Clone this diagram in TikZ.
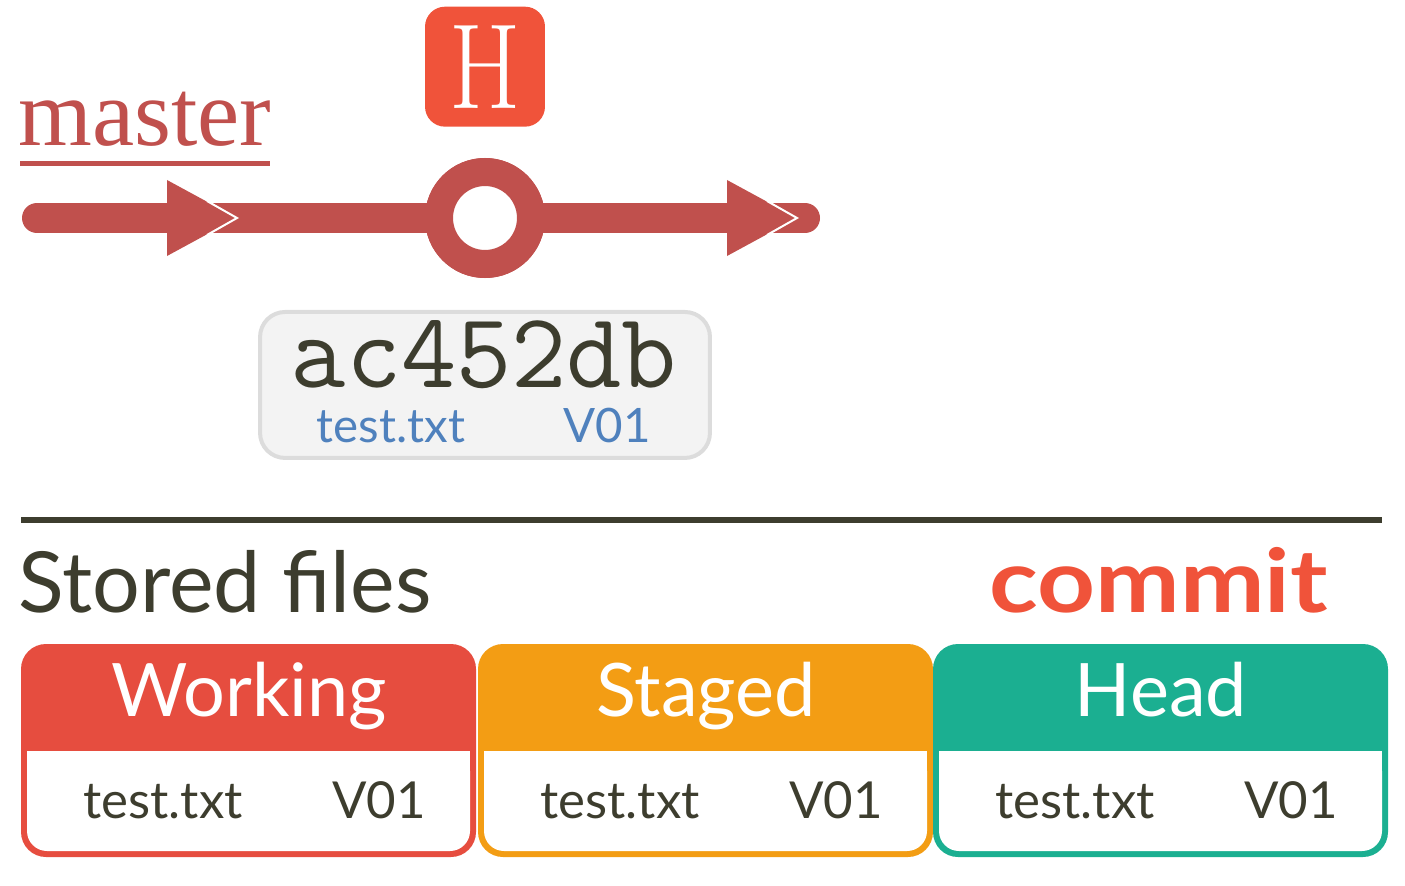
\documentclass[tikz,border=0pt]{standalone}
\usepackage{fontspec}
\newfontfamily\gillfont{Lato}
\newfontfamily\masterfont{Liberation Serif}
\usetikzlibrary{positioning}

\definecolor{masterred}{RGB}{192,80,77}
\definecolor{hred}{RGB}{240,83,58}
\definecolor{ink}{RGB}{61,61,46}
\definecolor{fileblue}{RGB}{79,129,189}
\definecolor{hashfill}{RGB}{243,243,243}
\definecolor{hashline}{RGB}{220,220,220}
\definecolor{working}{RGB}{230,77,63}
\definecolor{staged}{RGB}{243,157,20}
\definecolor{headgreen}{RGB}{27,175,145}

\tikzset{
  headtip/.pic={
    \fill[masterred] (-70,-38) -- (0,0) -- (-70,38) -- cycle;
    \draw[white, line width=0.04cm, line join=miter] (-30,-17) -- (0,0) -- (-30,17);
  }
}

\begin{document}
\begin{tikzpicture}[x=0.02cm, y=-0.02cm,
  bar/.style={line width=0.6cm, masterred, line cap=round},
  ring/.style={circle, draw=masterred, line width=0.56cm, fill=white, minimum size=1.84cm, inner sep=0pt},
  hbox/.style={fill=hred, rounded corners=0.4cm, minimum width=2.4cm, minimum height=2.4cm, inner sep=0pt,
    text=white, font=\fontsize{69}{70}\selectfont},
  hashbox/.style={fill=hashfill, draw=hashline, line width=0.08cm, rounded corners=0.5cm,
    minimum width=9cm, minimum height=2.92cm, inner sep=0pt},
  txt/.style={inner sep=0pt, anchor=base},
  headtext/.style={txt, text=white, font=\gillfont\fontsize{42}{44}\selectfont},
  bodytext/.style={txt, text=ink, font=\gillfont\fontsize{29}{30}\selectfont},
  bluetext/.style={txt, text=fileblue, font=\gillfont\fontsize{27}{28}\selectfont},
  rule/.style={line width=0.12cm, ink}
]
\useasboundingbox (0,0) rectangle (1405,885);

% branch line
\coordinate (start) at (37,218);
\coordinate (end) at (805,218);
\node[ring] (cmt) at (485,218) {};
\draw[bar] (start) -- (cmt) -- (end);
\coordinate (tipA) at (237,218);
\coordinate (tipB) at (797,218);
\pic at (tipA) {headtip};
\pic at (tipB) {headtip};
\node[ring] (cmt) at (485,218) {};

% head pointer and branch name
\node[hbox, above=0.62cm of cmt] (hd) {\scalebox{0.85}[1]{H}};
\node[txt, anchor=base west, text=masterred, font=\masterfont\fontsize{54}{56}\selectfont] (master) at (18,146) {master};
\fill[masterred] (20,161) rectangle (270,166);

% commit id
\node[hashbox, below=0.64cm of cmt] (hash) {};
\node[txt, text=ink, font=\ttfamily\fontsize{61}{62}\selectfont] (sha) at (484,387) {ac452db};
\node[bluetext] (hfile) at (391,442) {test.txt};
\node[bluetext] (hver) at (607,442) {V01};

% stored files
\draw[rule] (21,520) coordinate (ruleL) -- (1382,520) coordinate (ruleR);
\node[txt, anchor=base west, text=ink, font=\gillfont\fontsize{48}{50}\selectfont] (stored) at (18,612) {Stored files};
\node[txt, anchor=base east, text=hred, font=\gillfont\bfseries\fontsize{50}{52}\selectfont] (commit) at (1328,612) {\scalebox{1.15}[1]{commit}};

\foreach \lbl/\col/\x in {Working/working/21, Staged/staged/478, Head/headgreen/933} {
  \fill[\col, rounded corners=0.5cm] (\x,644) rectangle (\x+455,857);
  \fill[white, rounded corners=0.4cm] (\x+6,751) rectangle (\x+449,851);
  \fill[white] (\x+6,751) rectangle (\x+449,800);
  \node[headtext] (t-\lbl) at (\x+228,716) {\lbl};
  \node[bodytext] (f-\lbl) at (\x+142,818) {test.txt};
  \node[bodytext] (v-\lbl) at (\x+358,818) {V01};
}
\end{tikzpicture}
\end{document}
